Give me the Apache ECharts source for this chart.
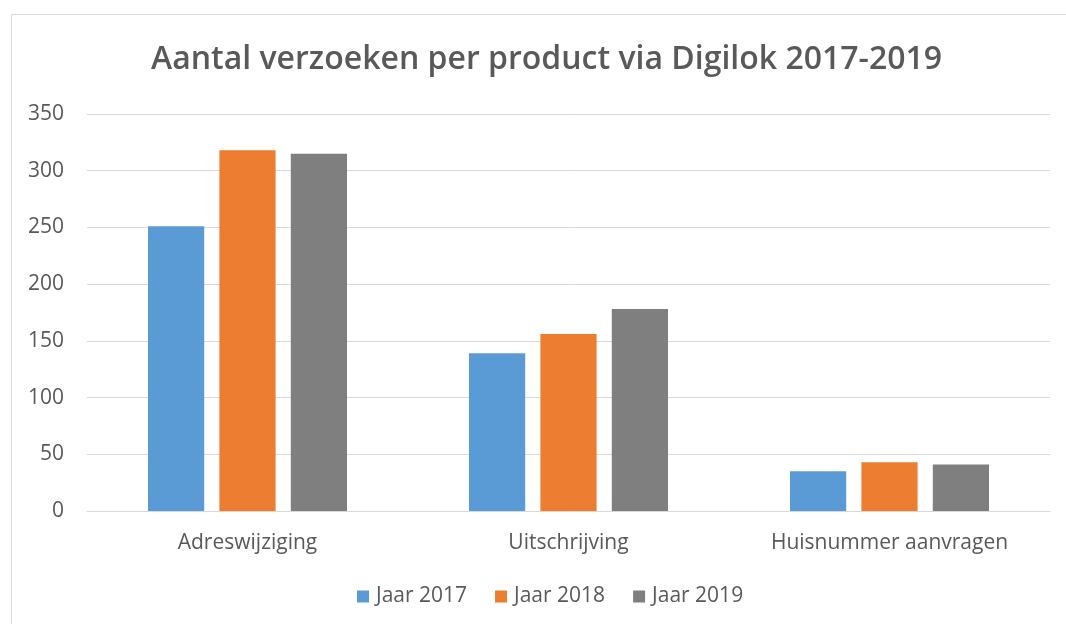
<!DOCTYPE html>
<html>
<head>
<meta charset="utf-8">
<script src="https://cdn.jsdelivr.net/npm/echarts@6/dist/echarts.min.js"></script>
<style>
    html, body { margin: 0; padding: 0; background: #fff; }
    #frame { position: absolute; left: 11px; top: 14px; width: 1100px; height: 700px;
             border-left: 1px solid #d9d9d9; border-top: 1px solid #d9d9d9; }
    #main { position: absolute; left: 0; top: 0; width: 1066px; height: 624px; }
</style>
</head>
<body>
<div id="frame"></div>
<div id="main"></div>
<script>
// gegevens uit de grafiek
var categories = ['Adreswijziging', 'Uitschrijving', 'Huisnummer aanvragen'];
var jaar2017 = [251, 139, 35];
var jaar2018 = [318, 156, 43];
var jaar2019 = [315, 178, 41];
var seriesNames = ['Jaar 2017', 'Jaar 2018', 'Jaar 2019'];

var chart = echarts.init(document.getElementById('main'));

var labelFont = '"Open Sans", "Noto Sans", sans-serif';

chart.setOption({
    animation: false,
    backgroundColor: 'transparent',
    color: ['#5b9bd5', '#ed7d31', '#7f7f7f'],
    title: {
        text: 'Aantal verzoeken per product via Digilok 2017-2019',
        left: 146,
        top: 39,
        textStyle: {
            fontFamily: labelFont,
            fontSize: 32,
            fontWeight: 600,
            color: '#595959'
        }
    },
    legend: {
        data: seriesNames,
        bottom: 12,
        left: 352,
        icon: 'rect',
        itemWidth: 12,
        itemHeight: 12,
        itemGap: 28,
        textStyle: {
            fontFamily: labelFont,
            fontSize: 21,
            color: '#595959',
            padding: [0, 0, 0, 2]
        }
    },
    grid: {
        left: 87,
        right: 16,
        top: 114,
        bottom: 113
    },
    xAxis: {
        type: 'category',
        data: categories,
        axisLine: { lineStyle: { color: '#d9d9d9' } },
        axisTick: { show: false },
        axisLabel: {
            margin: 22,
            fontFamily: labelFont,
            fontSize: 21,
            color: '#595959'
        }
    },
    yAxis: {
        type: 'value',
        min: 0,
        max: 350,
        interval: 50,
        axisLine: { show: false },
        axisTick: { show: false },
        splitLine: { lineStyle: { color: '#d9d9d9' } },
        axisLabel: {
            margin: 23,
            fontFamily: labelFont,
            fontSize: 21,
            color: '#595959'
        }
    },
    series: [
        { name: seriesNames[0], type: 'bar', data: jaar2017, barGap: '27%', barCategoryGap: '38%' },
        { name: seriesNames[1], type: 'bar', data: jaar2018, barGap: '27%', barCategoryGap: '38%' },
        { name: seriesNames[2], type: 'bar', data: jaar2019, barGap: '27%', barCategoryGap: '38%' }
    ]
});
</script>
</body>
</html>
